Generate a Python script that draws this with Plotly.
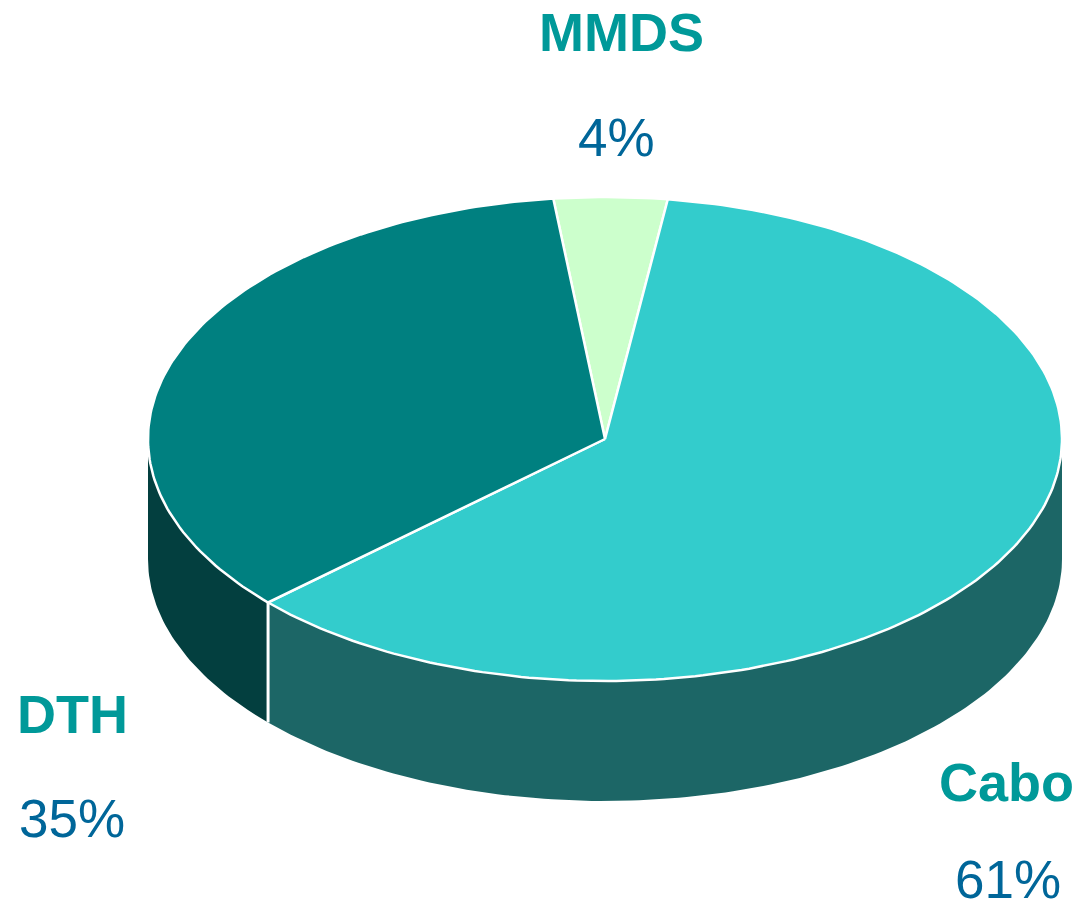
import numpy as np
import plotly.graph_objects as go

# ---- data ----
categories = ["MMDS", "Cabo", "DTH"]
values = [4, 61, 35]
pct_labels = ["4%", "61%", "35%"]

# ---- style ----
top_colors = {"MMDS": "#CCFFCC", "Cabo": "#33CCCC", "DTH": "#008080"}
side_colors = {"MMDS": "#99CC99", "Cabo": "#1C6666", "DTH": "#033F3F"}
name_color = "#009999"
pct_color = "#006699"

W, H = 1081, 909
cx, cy = 605, 439
rx, ry = 457, 242
depth = 120
start_deg = -6.5

label_pos = {"MMDS": ((621, 32), (616, 137)),
             "Cabo": ((1006, 782), (1008, 879)),
             "DTH": ((72, 714), (72, 818))}


def pt(theta_deg, dy=0.0):
    t = np.radians(theta_deg)
    return cx + rx * np.sin(t), cy - ry * np.cos(t) + dy


def arc(a, b, dy=0.0, n=None):
    if n is None:
        n = max(2, int(abs(b - a) / 1.0) + 2)
    th = np.linspace(a, b, n)
    xs, ys = pt(th, dy)
    return list(xs), list(ys)


total = float(sum(values))
angles = []
acc = start_deg
for v in values:
    a0 = acc
    a1 = acc + 360.0 * v / total
    angles.append((a0, a1))
    acc = a1

fig = go.Figure()

# side walls (visible front half: 90..270 deg)
for cat, (a0, a1) in zip(categories, angles):
    segs = []
    for off in (0, 360):
        lo, hi = max(a0 - off, 90.0), min(a1 - off, 270.0)
        if hi > lo:
            segs.append((lo, hi))
    for s0, s1 in segs:
        tx, ty = arc(s0, s1)
        bx, by = arc(s1, s0, depth)
        fig.add_trace(go.Scatter(x=tx + bx + [tx[0]], y=ty + by + [ty[0]],
                                 fill="toself", fillcolor=side_colors[cat],
                                 line=dict(width=0), mode="lines",
                                 hoverinfo="skip", showlegend=False))

# vertical separators between slices on the visible side
for a0, a1 in angles:
    aa = a0 % 360
    if 90 < aa < 270:
        x0, y0 = pt(aa)
        x1, y1 = pt(aa, depth)
        fig.add_trace(go.Scatter(x=[x0, x1], y=[y0, y1], mode="lines",
                                 line=dict(color="white", width=3),
                                 hoverinfo="skip", showlegend=False))

# top faces
for cat, (a0, a1) in zip(categories, angles):
    ax, ay = arc(a0, a1)
    xs = [cx] + ax + [cx]
    ys = [cy] + ay + [cy]
    fig.add_trace(go.Scatter(x=xs, y=ys, fill="toself",
                             fillcolor=top_colors[cat],
                             line=dict(color="white", width=2.5),
                             mode="lines", hoverinfo="skip",
                             showlegend=False))

# labels
for cat, pl in zip(categories, pct_labels):
    (nx, ny), (px, py) = label_pos[cat]
    fig.add_annotation(x=nx, y=ny, text="<b>%s</b>" % cat, showarrow=False,
                       font=dict(family="Liberation Sans, Arial", size=54,
                                 color=name_color),
                       xanchor="center", yanchor="middle")
    fig.add_annotation(x=px, y=py, text=pl, showarrow=False,
                       font=dict(family="Liberation Sans, Arial", size=53,
                                 color=pct_color),
                       xanchor="center", yanchor="middle")

fig.update_layout(width=W, height=H, margin=dict(l=0, r=0, t=0, b=0),
                  paper_bgcolor="white", plot_bgcolor="white",
                  xaxis=dict(range=[0, W], visible=False, fixedrange=True),
                  yaxis=dict(range=[H, 0], visible=False, fixedrange=True))

fig.write_html("out.html", config={"displayModeBar": False},
               post_script="document.body.style.margin='0';"
                           "document.body.style.overflow='hidden';")
